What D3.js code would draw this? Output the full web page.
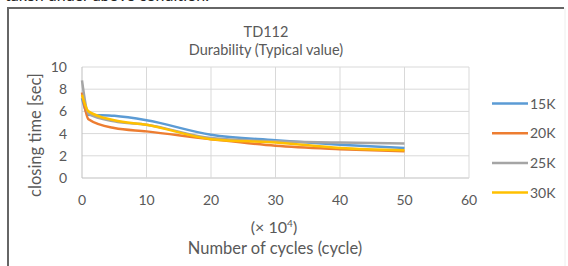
<!DOCTYPE html>
<html>
<head>
<meta charset="utf-8">
<script src="https://cdn.jsdelivr.net/npm/d3@7"></script>
<style>
  body { margin: 0; background: #fff; }
  svg { display: block; font-family: Lato, "Open Sans", sans-serif; }
</style>
</head>
<body>
<svg id="vis" width="568" height="266"></svg>
<script>
// cycles (x 10^4)
const cycles = [0, 1, 5, 10, 20, 30, 40, 50];
const s15K = [7.2, 5.7, 5.6, 5.2, 3.9, 3.4, 3.0, 2.7];
const s20K = [7.7, 5.3, 4.5, 4.2, 3.5, 2.9, 2.6, 2.4];
const s25K = [8.8, 5.8, 5.1, 4.8, 3.6, 3.3, 3.2, 3.1];
const s30K = [7.5, 6.0, 5.2, 4.8, 3.5, 3.2, 2.7, 2.5];
const seriesNames = ["15K", "20K", "25K", "30K"];
const xTicks = [0, 10, 20, 30, 40, 50, 60];
const yTicks = [0, 2, 4, 6, 8, 10];

const COLORS = ["#5B9BD5", "#ED7D31", "#A5A5A5", "#FFC000"];
const TEXT = "#595959";

const svg = d3.select("#vis");
const xscale = d3.scaleLinear().domain([0, 60]).range([82, 469]);
const yscale = d3.scaleLinear().domain([0, 10]).range([178, 67]);

const series = [s15K, s20K, s25K, s30K].map((vals, i) => ({
    name: seriesNames[i],
    color: COLORS[i],
    points: cycles.map((c, j) => ({x: c, y: vals[j]}))
}));

// text cut off above the chart (it is cropped in the source image too)
svg.append("text")
    .attr("x", 5).attr("y", 1)
    .style("font-size", "16px").style("fill", "#222")
    .text("taken under above condition.");

// frame
svg.append("path")
    .attr("d", "M8,266 V8 H564")
    .attr("fill", "none").attr("stroke", "#666").attr("stroke-width", 2);
svg.append("line")
    .attr("x1", 565).attr("x2", 565).attr("y1", 8).attr("y2", 266)
    .attr("stroke", "#eee");

// titles
svg.append("text").attr("x", 266).attr("y", 37)
    .attr("text-anchor", "middle").style("font-size", "14.5px").style("fill", TEXT)
    .text("TD112");
svg.append("text").attr("x", 266).attr("y", 55)
    .attr("text-anchor", "middle").style("font-size", "14.5px").style("fill", TEXT)
    .text("Durability (Typical value)");

// grid
svg.selectAll(".hgrid").data(yTicks).join("line")
    .attr("class", "hgrid")
    .attr("x1", xscale(0)).attr("x2", xscale(60))
    .attr("y1", d => yscale(d)).attr("y2", d => yscale(d))
    .attr("stroke", d => d === 0 ? "#BFBFBF" : "#D9D9D9");
svg.selectAll(".vgrid").data(xTicks).join("line")
    .attr("class", "vgrid")
    .attr("y1", yscale(0)).attr("y2", yscale(10))
    .attr("x1", d => xscale(d)).attr("x2", d => xscale(d))
    .attr("stroke", d => d === 0 ? "#BFBFBF" : "#D9D9D9");

// tick labels
svg.selectAll(".ylab").data(yTicks).join("text")
    .attr("class", "ylab")
    .attr("x", 67).attr("y", d => yscale(d) + 5)
    .attr("text-anchor", "end").style("font-size", "14px").style("fill", TEXT)
    .text(d => d);
svg.selectAll(".xlab").data(xTicks).join("text")
    .attr("class", "xlab")
    .attr("x", d => xscale(d)).attr("y", 205)
    .attr("text-anchor", "middle").style("font-size", "14px").style("fill", TEXT)
    .text(d => d);

// axis titles
svg.append("text")
    .attr("transform", "translate(41,135) rotate(-90)")
    .attr("text-anchor", "middle").style("font-size", "16.5px").style("fill", TEXT)
    .text("closing time [sec]");
const unit = svg.append("text").attr("x", 274).attr("y", 233)
    .attr("text-anchor", "middle").style("font-size", "16px").style("fill", TEXT);
unit.append("tspan").text("(\u00D7 10");
unit.append("tspan").attr("dy", -6).style("font-size", "10px").text("4");
unit.append("tspan").attr("dy", 6).text(")");
svg.append("text").attr("x", 275).attr("y", 254)
    .attr("text-anchor", "middle").style("font-size", "16.5px").style("fill", TEXT)
    .text("Number of cycles (cycle)");

// lines
const line = d3.line()
    .x(d => xscale(d.x))
    .y(d => yscale(d.y))
    .curve(d3.curveMonotoneX);
svg.selectAll(".series").data(series).join("path")
    .attr("class", "series")
    .attr("d", d => line(d.points))
    .attr("fill", "none")
    .attr("stroke", d => d.color)
    .attr("stroke-width", 2.5)
    .attr("stroke-linejoin", "round");

// legend
const legend = svg.selectAll(".legend").data(series).join("g")
    .attr("class", "legend")
    .attr("transform", (d, i) => `translate(492,${103.5 + i * 29.7})`);
legend.append("line")
    .attr("x1", 0).attr("x2", 36)
    .attr("stroke", d => d.color).attr("stroke-width", 2.5);
legend.append("text")
    .attr("x", 38).attr("y", 5)
    .style("font-size", "14px").style("fill", TEXT)
    .text(d => d.name);
</script>
</body>
</html>
